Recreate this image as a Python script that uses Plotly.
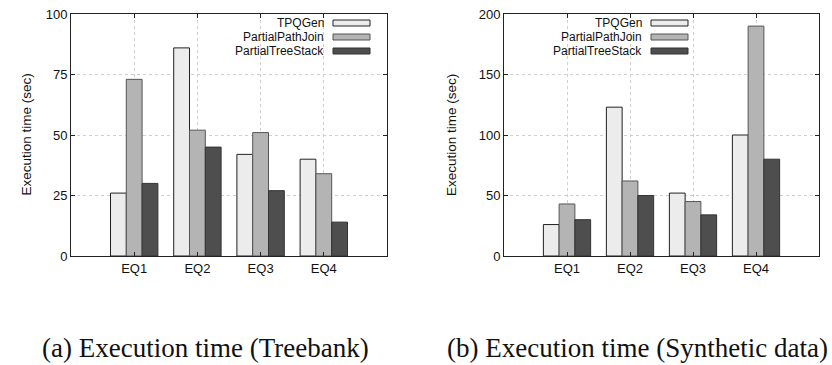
import plotly.graph_objects as go

categories = ["EQ1", "EQ2", "EQ3", "EQ4"]
series_names = ["TPQGen", "PartialPathJoin", "PartialTreeStack"]

treebank_tpqgen = [26, 86, 42, 40]
treebank_ppj = [73, 52, 51, 34]
treebank_pts = [30, 45, 27, 14]

synthetic_tpqgen = [26, 123, 52, 100]
synthetic_ppj = [43, 62, 45, 190]
synthetic_pts = [30, 50, 34, 80]

left_ticks = [0, 25, 50, 75, 100]
right_ticks = [0, 50, 100, 150, 200]

fills = ["#ececec", "#b4b4b4", "#4e4e4e"]
borders = ["#222222", "#555555", "#333333"]

fig = go.Figure()
for vals, name, fc, bc in zip([treebank_tpqgen, treebank_ppj, treebank_pts], series_names, fills, borders):
    fig.add_trace(go.Bar(x=categories, y=vals, name=name, xaxis="x", yaxis="y",
                         marker=dict(color=fc, line=dict(color=bc, width=1)), showlegend=False))
for vals, name, fc, bc in zip([synthetic_tpqgen, synthetic_ppj, synthetic_pts], series_names, fills, borders):
    fig.add_trace(go.Bar(x=categories, y=vals, name=name, xaxis="x2", yaxis="y2",
                         marker=dict(color=fc, line=dict(color=bc, width=1)), showlegend=False))

ytop = 1 - 14 / 365
ybot = 1 - 256 / 365
dl = [71 / 832, 387 / 832]
dr = [504 / 832, 819 / 832]

tickfont = dict(family="Liberation Sans, Arial", size=13, color="#111")
axcommon = dict(showline=True, linecolor="#222", linewidth=1, mirror="ticks",
                ticks="inside", ticklen=4, tickcolor="#222", automargin=False,
                showgrid=True, gridcolor="#cfcfcf", griddash="dot", gridwidth=1,
                tickfont=tickfont, zeroline=False)

fig.update_layout(
    width=832, height=365,
    margin=dict(l=0, r=0, t=0, b=0, pad=0, autoexpand=False),
    paper_bgcolor="white", plot_bgcolor="white",
    showlegend=False,
    barmode="group", bargap=0.25, bargroupgap=0,
    xaxis=dict(domain=dl, anchor="y", type="category", range=[-1, 4], **axcommon),
    yaxis=dict(domain=[ybot, ytop], anchor="x", range=[0, 100], tickvals=left_ticks, **axcommon),
    xaxis2=dict(domain=dr, anchor="y2", type="category", range=[-1, 4], **axcommon),
    yaxis2=dict(domain=[ybot, ytop], anchor="x2", range=[0, 200], tickvals=right_ticks, **axcommon),
)

# axis titles
for xp in [17 / 832, 452 / 832]:
    fig.add_annotation(x=xp, y=(ybot + ytop) / 2, xref="paper", yref="paper", text="Execution time (sec)",
                       textangle=-90, showarrow=False, font=dict(family="Liberation Sans, Arial", size=13.5, color="#111"))

# manual legends (text left of swatch, like gnuplot)
legend_rows = [23, 37, 51]
for (txt_end, sw0, sw1) in [(325, 333, 370), (643, 651, 688)]:
    for name, fc, bc, yy in zip(series_names, fills, borders, legend_rows):
        yp = 1 - yy / 365
        fig.add_annotation(x=txt_end / 832, y=yp, xref="paper", yref="paper", text=name, xanchor="right",
                           yanchor="middle", showarrow=False, borderpad=0,
                           font=dict(family="Liberation Sans, Arial", size=12, color="#111"))
        fig.add_shape(type="rect", xref="paper", yref="paper", x0=sw0 / 832, x1=sw1 / 832,
                      y0=yp - 3 / 365, y1=yp + 3 / 365, fillcolor=fc, line=dict(color=bc, width=1))

# captions
fig.add_annotation(x=40 / 832, y=1 - 348 / 365, xref="paper", yref="paper", text="(a) Execution time (Treebank)",
                   showarrow=False, xanchor="left", yanchor="middle",
                   font=dict(family="Liberation Serif, Times New Roman", size=27, color="#111"))
fig.add_annotation(x=445 / 832, y=1 - 348 / 365, xref="paper", yref="paper", text="(b) Execution time (Synthetic data)",
                   showarrow=False, xanchor="left", yanchor="middle",
                   font=dict(family="Liberation Serif, Times New Roman", size=27, color="#111"))

fig.write_html("out.html")
